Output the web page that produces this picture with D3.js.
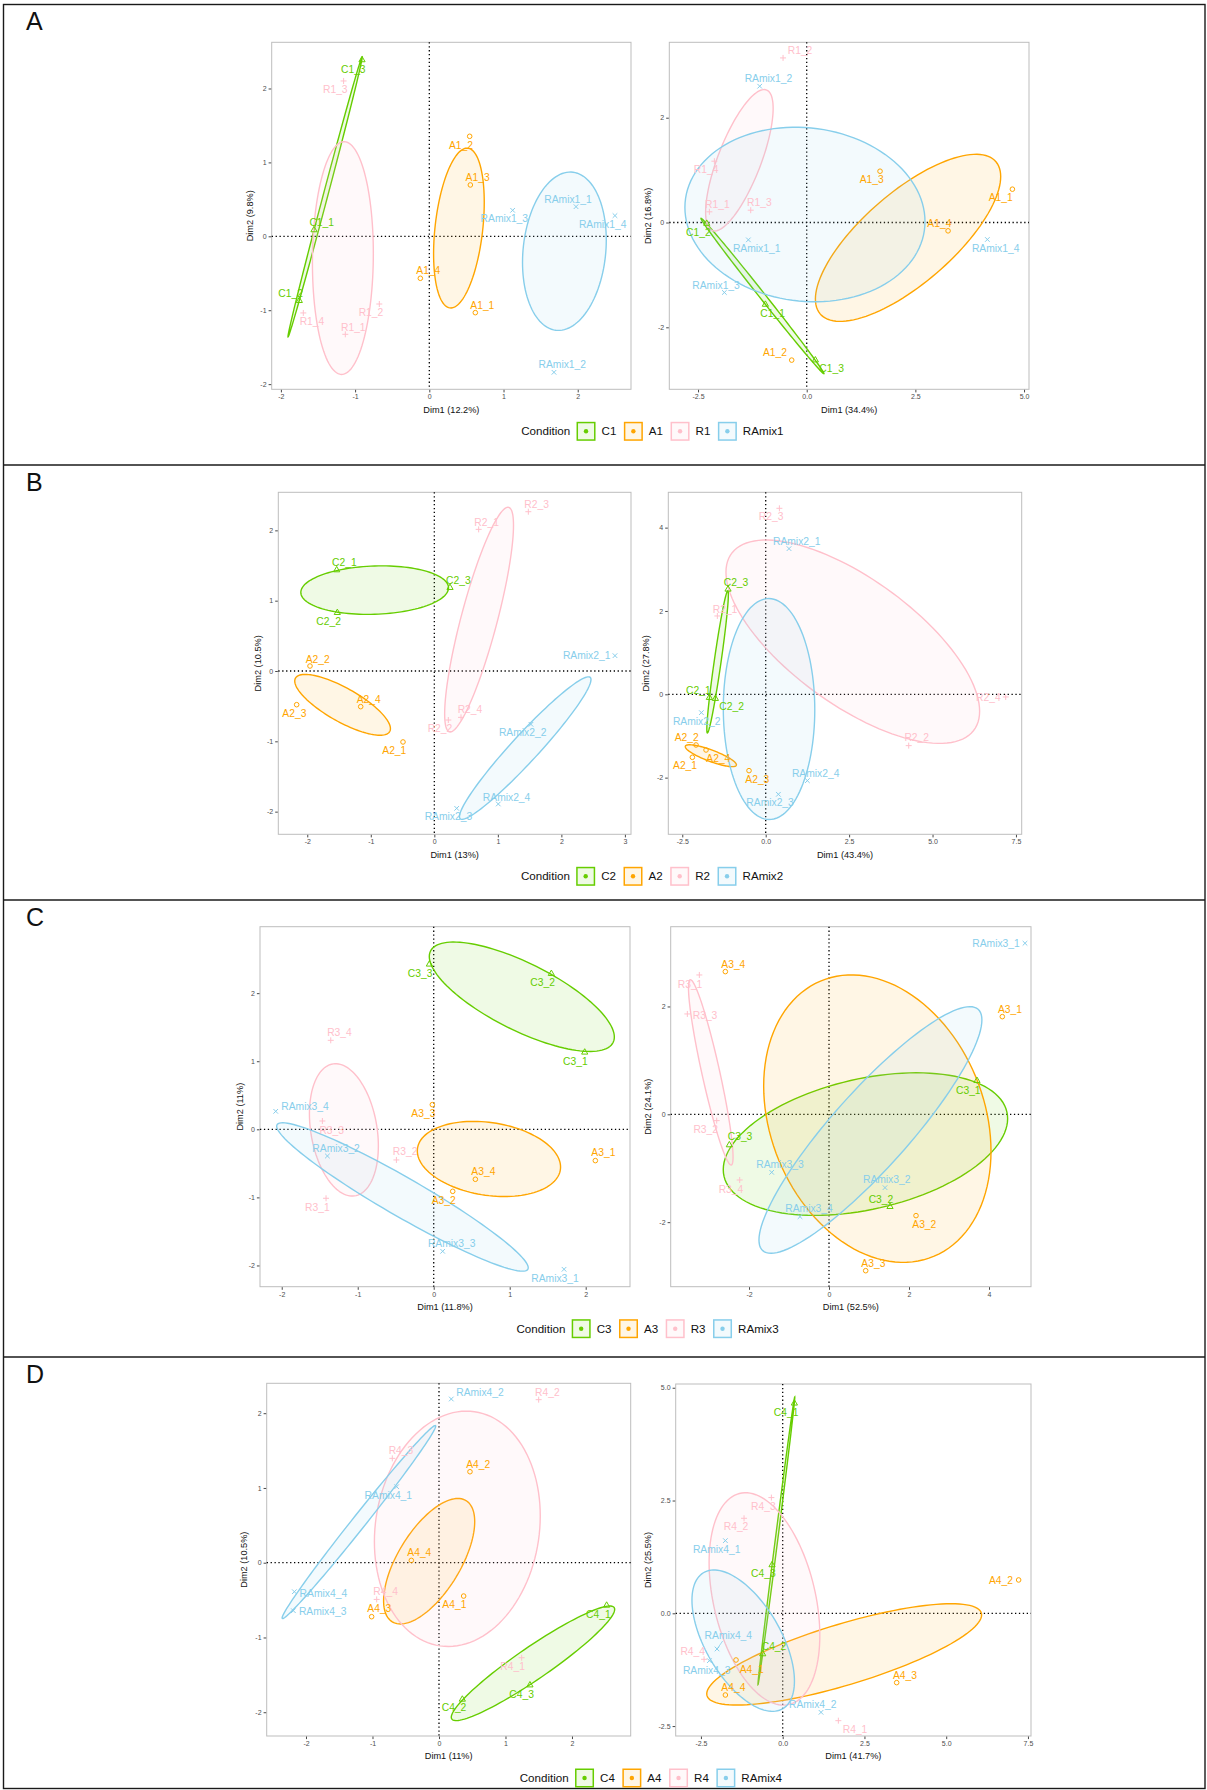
<!DOCTYPE html>
<html>
<head>
<meta charset="utf-8">
<script src="https://cdn.jsdelivr.net/npm/d3@7"></script>
<style>
  body { margin: 0; background: #fff; }
  svg { display: block; font-family: "Liberation Sans", Arial, Helvetica, sans-serif; }
</style>
</head>
<body>
<div id="figure"></div>
<script>
// ---- data ----
const conditions = ['C', 'A', 'R', 'RAmix'];
const conditionColors = ['#66CD00', '#FFA500', '#FFC0CB', '#87CEEB'];
const panelLetters = ['A', 'B', 'C', 'D'];

// explained variance per plot (left, right) of each panel
const dim1Pct = ['12.2%', '34.4%', '13%', '43.4%', '11.8%', '52.5%', '11%', '41.7%'];
const dim2Pct = ['9.8%', '16.8%', '10.5%', '27.8%', '11%', '24.1%', '10.5%', '25.5%'];

// individuals [Dim1, Dim2], replicate _1, _2, ...
const pcaA1 = {
  C: [[-1.554, 0.086], [-1.752, -0.871], [-0.907, 2.386]],
  A: [[0.620, -1.033], [0.544, 1.353], [0.553, 0.695], [-0.121, -0.568]],
  R: [[-1.132, -1.326], [-0.674, -0.916], [-1.155, 2.102], [-1.698, -1.037]],
  RAmix: [[1.977, 0.401], [1.680, -1.840], [1.123, 0.352], [2.502, 0.280]],
};
const pcaA2 = {
  C: [[-0.951, -1.564], [-2.300, -0.019], [0.199, -2.626]],
  A: [[4.732, 0.636], [-0.345, -2.626], [1.687, 0.979], [3.252, -0.159]],
  R: [[-2.239, 0.204], [-0.544, 3.141], [-1.288, 0.235], [-2.124, 1.170]],
  RAmix: [[-1.342, -0.331], [-1.081, 2.601], [-1.894, -1.335], [4.156, -0.324]],
};
const pcaB1 = {
  C: [[-1.537, 1.436], [-1.527, 0.829], [0.247, 1.185]],
  A: [[-0.493, -1.009], [-1.957, 0.071], [-2.167, -0.479], [-1.159, -0.507]],
  R: [[0.698, 2.014], [0.220, -0.697], [1.480, 2.265], [0.420, -0.659]],
  RAmix: [[2.844, 0.218], [1.521, -0.758], [0.352, -1.953], [1.007, -1.891]],
};
const pcaB2 = {
  C: [[-1.688, -0.080], [-1.508, -0.104], [-1.129, 2.520]],
  A: [[-2.198, -1.512], [-2.088, -1.216], [-0.500, -1.832], [-1.788, -1.336]],
  R: [[-1.449, 1.880], [4.286, -1.232], [0.410, 4.464], [7.193, -0.064]],
  RAmix: [[0.699, 3.496], [-1.928, -0.440], [0.380, -2.400], [1.249, -2.072]],
};
const pcaC1 = {
  C: [[1.987, 1.131], [1.548, 2.286], [-0.057, 2.424]],
  A: [[2.127, -0.460], [0.250, -0.911], [-0.018, 0.362], [0.548, -0.734]],
  R: [[-1.417, -1.013], [-0.491, -0.450], [-1.465, 0.122], [-1.355, 1.307]],
  RAmix: [[1.715, -2.056], [-1.399, -0.392], [0.118, -1.792], [-2.079, 0.264]],
};
const pcaC2 = {
  C: [[3.700, 0.624], [1.525, -1.713], [-2.492, -0.569]],
  A: [[4.333, 1.811], [2.175, -1.879], [0.917, -2.900], [-2.592, 2.646]],
  R: [[-3.242, 2.584], [-2.808, -0.117], [-3.542, 1.861], [-2.233, -1.218]],
  RAmix: [[4.900, 3.172], [1.400, -1.360], [-1.433, -1.076], [-0.725, -1.898]],
};
const pcaD1 = {
  C: [[2.521, -0.571], [0.351, -1.828], [1.368, -1.637]],
  A: [[0.371, -0.446], [0.466, 1.217], [-1.013, -0.722], [-0.416, 0.031]],
  R: [[1.243, -1.271], [1.499, 2.181], [-0.702, 1.396], [-0.937, -0.491]],
  RAmix: [[-0.637, 1.017], [0.185, 2.190], [-2.190, -0.642], [-2.175, -0.388]],
};
const pcaD2 = {
  C: [[0.357, 4.656], [-0.611, -0.902], [-0.326, 1.072]],
  A: [[-1.427, -1.035], [7.215, 0.739], [3.485, -1.537], [-1.753, -1.811]],
  R: [[1.702, -2.380], [-1.182, 2.106], [-0.346, 2.565], [-2.405, -1.020]],
  RAmix: [[-1.753, 1.611], [1.172, -2.195], [-2.242, -1.050], [-2.008, -0.791]],
};

// axis limits and ticks per plot
const xLimits = [[-2.124, 2.718], [-3.161, 5.114], [-2.456, 3.096], [-2.919, 7.672],
  [-2.286, 2.583], [-3.958, 5.05], [-2.591, 2.883], [-3.272, 7.593]];
const yLimits = [[-2.07, 2.625], [-3.183, 3.439], [-2.322, 2.541], [-3.36, 4.848],
  [-2.312, 2.976], [-3.197, 3.479], [-2.318, 2.4], [-2.72, 5.083]];
const xTickValues = [[-2, -1, 0, 1, 2], [-2.5, 0, 2.5, 5], [-2, -1, 0, 1, 2, 3], [-2.5, 0, 2.5, 5, 7.5],
  [-2, -1, 0, 1, 2], [-2, 0, 2, 4], [-2, -1, 0, 1, 2], [-2.5, 0, 2.5, 5, 7.5]];
const yTickValues = [[-2, -1, 0, 1, 2], [-2, 0, 2], [-2, -1, 0, 1, 2], [-2, 0, 2, 4],
  [-2, -1, 0, 1, 2], [-2, 0, 2], [-2, -1, 0, 1, 2], [-2.5, 0, 2.5, 5]];
const tickDecimals = [[0, 0], [1, 0], [0, 0], [1, 0], [0, 0], [0, 0], [0, 0], [1, 1]];

// ---- layout ----
const width = 1207;
const height = 1790;
const panelTops = [4.5, 465, 900, 1357];
const plotBoxes = [ // [left, right, top, bottom] in px
  [271.7, 631, 42.3, 389.3], [669.3, 1029, 42.3, 389.3],
  [278.3, 631, 492.3, 834.3], [668.3, 1021.7, 492.3, 834.3],
  [260, 630, 926.7, 1286.7], [670.7, 1031, 926.7, 1286.7],
  [266.7, 630.7, 1383.3, 1736], [675.7, 1031, 1384, 1736],
];
const yTitleOffsets = [21.7, 22, 21, 23, 20, 23.4, 22.7, 28.4];

// label placement (px offsets from the point, like ggrepel output)
const nudges = [
  { C: [[7.7, -7.7], [-8.7, -7.3], [-8.7, 9]], A: [[7, -7.7], [-8.7, 8.7], [7.3, -7.3], [8, -7.7]],
    R: [[8, -7], [-8.3, 8], [-8.3, 8.3], [8.7, 8.7]], RAmix: [[-8, -7.7], [8.3, -8], [-8.3, 8.3], [-12.3, 8.7]] },
  { C: [[7.3, 9], [-8.3, 8.3], [16.3, 8.3]], A: [[-11.7, 8.3], [-16.7, -7.7], [-8.3, 8], [-8.7, -8]],
    R: [[8, -7.7], [17, -7.7], [8.7, -8], [-8.3, 8.3]], RAmix: [[8.3, 8.7], [8.7, -7.7], [-8.3, -7.3], [8.3, 8.7]] },
  { C: [[7.7, -7.3], [-8.7, 8.7], [8.3, -7]], A: [[-8.7, 8], [7.7, -7], [-2.3, 8.7], [8, -7.7]],
    R: [[8, -7.3], [-8.3, 8.3], [8.3, -7.7], [9, -8]], RAmix: [[-28.3, 0], [-8.3, 8.3], [-8.3, 8.3], [8.3, -7]] },
  { C: [[-11, -7.7], [16.3, 7.3], [8, -6.7]], A: [[-7.3, 8.3], [-9.3, -7.7], [8.3, 8.7], [12.3, 8.3]],
    R: [[7.7, -7], [8, -8], [-8.3, 7.7], [-17.3, 0]], RAmix: [[7.7, -7.7], [-4.7, 8.3], [-8.3, 8.3], [8.3, -7.3]] },
  { C: [[-9.3, 9], [-8.7, 8.7], [-9.3, 9]], A: [[8, -8], [-9, 8.7], [-9, 9], [8, -7.7]],
    R: [[-8.7, 9], [8.7, -8.3], [9.3, 9], [8.7, -8]], RAmix: [[-9, 9], [8.7, -7.7], [9, -8], [29.3, -4.7]] },
  { C: [[-8.7, 9.3], [-9, -7.3], [10.7, -8.3]], A: [[7.7, -7.7], [8.3, 9], [7.7, -7.3], [8, -7.7]],
    R: [[-9.3, 9], [-11, 8.3], [17.7, 1], [-8.7, 9]], RAmix: [[-29, 0], [1.7, -8.7], [8.3, -8], [9, -8]] },
  { C: [[-8.3, 9], [-8.3, 8.3], [-8.3, 9]], A: [[-9.3, 8.7], [8.3, -7.7], [7.7, -8], [8, -7.7]],
    R: [[-9, 9], [8.7, -7.7], [8.7, -8.3], [9, -8]], RAmix: [[-8.3, 8.7], [28.7, -7], [29.3, 0.3], [29, 1.7]] },
  { C: [[-8.3, 9.3], [11.3, -7.3], [-8.7, 8.3]], A: [[15.7, 9], [-17.7, 0], [8.3, -7.7], [8, -7.7]],
    R: [[16.7, 8.3], [-8, 8.3], [-8, 8.3], [-11.3, -7.7]], RAmix: [[-8.7, 8.3], [-8.3, -8], [-2.7, 10], [11.3, -13.3]] },
];

const pcaData = [pcaA1, pcaA2, pcaB1, pcaB2, pcaC1, pcaC2, pcaD1, pcaD2];
const ellipseT = 1.96; // confidence ellipse around the group barycentre

const svg = d3.select('#figure').append('svg')
  .attr('width', width)
  .attr('height', height)
  .attr('viewBox', `0 0 ${width} ${height}`);

// panel frames
svg.append('rect')
  .attr('x', 3.5).attr('y', panelTops[0])
  .attr('width', 1201.5).attr('height', 1784)
  .attr('fill', 'none').attr('stroke', '#1a1a1a').attr('stroke-width', 1.4);
panelTops.slice(1).forEach((y) => {
  svg.append('line').attr('x1', 3.5).attr('x2', 1205).attr('y1', y).attr('y2', y)
    .attr('stroke', '#1a1a1a').attr('stroke-width', 1.4);
});
panelTops.forEach((y, i) => {
  svg.append('text').attr('x', 26).attr('y', y + 25.5)
    .attr('font-size', 25).attr('fill', '#111')
    .text(panelLetters[i]);
});

const fmtTick = (dec) => (d) => (dec ? d.toFixed(dec) : String(d));

/**
 * Ellipse for one group: barycentre +/- t/sqrt(n) * Cholesky(cov)
 */
const ellipsePoints = (pts) => {
  const n = pts.length;
  const mx = d3.mean(pts, (p) => p[0]);
  const my = d3.mean(pts, (p) => p[1]);
  let sxx = 0; let syy = 0; let sxy = 0;
  pts.forEach(([x, y]) => {
    sxx += (x - mx) ** 2; syy += (y - my) ** 2; sxy += (x - mx) * (y - my);
  });
  sxx /= n - 1; syy /= n - 1; sxy /= n - 1;
  const k = ellipseT / Math.sqrt(n);
  const a = Math.sqrt(sxx);
  const b = sxy / a;
  const c = Math.sqrt(Math.max(syy - b * b, 0));
  return d3.range(120).map((i) => {
    const t = (2 * Math.PI * i) / 120;
    const u = Math.cos(t); const v = Math.sin(t);
    return [mx + k * a * u, my + k * (b * u + c * v)];
  });
};

const markerPath = (cond) => {
  if (cond === 'C') return 'M0,-3.6L3.1,1.8L-3.1,1.8Z';
  if (cond === 'R') return 'M-3,0H3M0,-3V3';
  if (cond === 'RAmix') return 'M-2.3,-2.3L2.3,2.3M-2.3,2.3L2.3,-2.3';
  return null;
};

pcaData.forEach((data, p) => {
  const [left, right, top, bottom] = plotBoxes[p];
  const panel = Math.floor(p / 2);
  const xScale = d3.scaleLinear().domain(xLimits[p]).range([left, right]);
  const yScale = d3.scaleLinear().domain(yLimits[p]).range([bottom, top]);
  const g = svg.append('g');

  // frame
  g.append('rect').attr('x', left).attr('y', top)
    .attr('width', right - left).attr('height', bottom - top)
    .attr('fill', 'none').attr('stroke', '#bdbdbd').attr('stroke-width', 1);

  // axes
  const [xDec, yDec] = tickDecimals[p];
  const xAxis = g.append('g').attr('transform', `translate(0,${bottom + 0.5})`)
    .call(d3.axisBottom(xScale).tickValues(xTickValues[p]).tickFormat(fmtTick(xDec))
      .tickSize(2.6).tickPadding(2));
  const yAxis = g.append('g').attr('transform', `translate(${left - 0.5},0)`)
    .call(d3.axisLeft(yScale).tickValues(yTickValues[p]).tickFormat(fmtTick(yDec))
      .tickSize(2.6).tickPadding(2));
  [xAxis, yAxis].forEach((ax) => {
    ax.select('.domain').remove();
    ax.selectAll('.tick line').attr('stroke', '#333').attr('stroke-width', 0.9);
    ax.selectAll('.tick text').attr('fill', '#4d4d4d').attr('font-size', 7)
      .attr('font-family', '"Liberation Sans", Arial, sans-serif');
  });

  // axis titles
  g.append('text').attr('x', (left + right) / 2).attr('y', bottom + 23.3)
    .attr('text-anchor', 'middle').attr('font-size', 9.2).attr('fill', '#111')
    .text(`Dim1 (${dim1Pct[p]})`);
  g.append('text')
    .attr('transform', `translate(${left - yTitleOffsets[p] + 3.3},${(top + bottom) / 2}) rotate(-90)`)
    .attr('text-anchor', 'middle').attr('font-size', 9.2).attr('fill', '#111')
    .text(`Dim2 (${dim2Pct[p]})`);

  // zero reference lines
  g.append('line').attr('x1', xScale(0)).attr('x2', xScale(0)).attr('y1', top).attr('y2', bottom)
    .attr('stroke', '#000').attr('stroke-width', 1.3).attr('stroke-dasharray', '1.3,2.6');
  g.append('line').attr('x1', left).attr('x2', right).attr('y1', yScale(0)).attr('y2', yScale(0))
    .attr('stroke', '#000').attr('stroke-width', 1.3).attr('stroke-dasharray', '1.3,2.6');

  const line = d3.line().x((d) => xScale(d[0])).y((d) => yScale(d[1])).curve(d3.curveLinearClosed);

  // ellipses
  conditions.forEach((cond, ci) => {
    g.append('path').attr('d', line(ellipsePoints(data[cond])))
      .attr('fill', conditionColors[ci]).attr('fill-opacity', 0.1)
      .attr('stroke', conditionColors[ci]).attr('stroke-width', 1.4);
  });

  // points and labels
  conditions.forEach((cond, ci) => {
    const color = conditionColors[ci];
    data[cond].forEach(([dx, dy], ri) => {
      const px = xScale(dx);
      const py = yScale(dy);
      if (cond === 'A') {
        g.append('circle').attr('cx', px).attr('cy', py).attr('r', 2.3)
          .attr('fill', 'none').attr('stroke', color).attr('stroke-width', 1);
      } else {
        g.append('path').attr('transform', `translate(${px},${py})`).attr('d', markerPath(cond))
          .attr('fill', 'none').attr('stroke', color).attr('stroke-width', 1);
      }
      const [nx, ny] = nudges[p][cond][ri];
      if (Math.abs(ny) > 12) {
        g.append('line').attr('x1', px).attr('y1', py)
          .attr('x2', px + nx * 0.5).attr('y2', py + ny * 0.6)
          .attr('stroke', color).attr('stroke-width', 0.8);
      }
      g.append('text').attr('x', px + nx).attr('y', py + ny).attr('dy', '0.36em')
        .attr('text-anchor', 'middle').attr('font-size', 10.3).attr('fill', color)
        .text(`${cond}${panel + 1}_${ri + 1}`);
    });
  });
});

// legends
[0, 1, 2, 3].forEach((panel) => {
  const leftBox = plotBoxes[panel * 2];
  const rightBox = plotBoxes[panel * 2 + 1];
  const cy = leftBox[3] + 42;
  const lg = svg.append('g');
  const title = lg.append('text').attr('y', cy).attr('dy', '0.36em')
    .attr('font-size', 11.6).attr('fill', '#111').text('Condition');
  let x = title.node().getComputedTextLength() + 6.3;
  conditions.forEach((cond, ci) => {
    const color = conditionColors[ci];
    lg.append('rect').attr('x', x + 0.75).attr('y', cy - 9.5 + 0.75)
      .attr('width', 17.5).attr('height', 17.5)
      .attr('fill', color).attr('fill-opacity', 0.1)
      .attr('stroke', color).attr('stroke-width', 1.5);
    lg.append('circle').attr('cx', x + 9.5).attr('cy', cy).attr('r', 2.2).attr('fill', color);
    const label = lg.append('text').attr('x', x + 25).attr('y', cy).attr('dy', '0.36em')
      .attr('font-size', 11.6).attr('fill', '#111').text(`${cond}${panel + 1}`);
    x += 25 + label.node().getComputedTextLength() + 7.5;
  });
  const total = x - 7.5;
  const center = (leftBox[0] + rightBox[1]) / 2 + 2;
  lg.attr('transform', `translate(${center - total / 2},0)`);
});
</script>
</body>
</html>
